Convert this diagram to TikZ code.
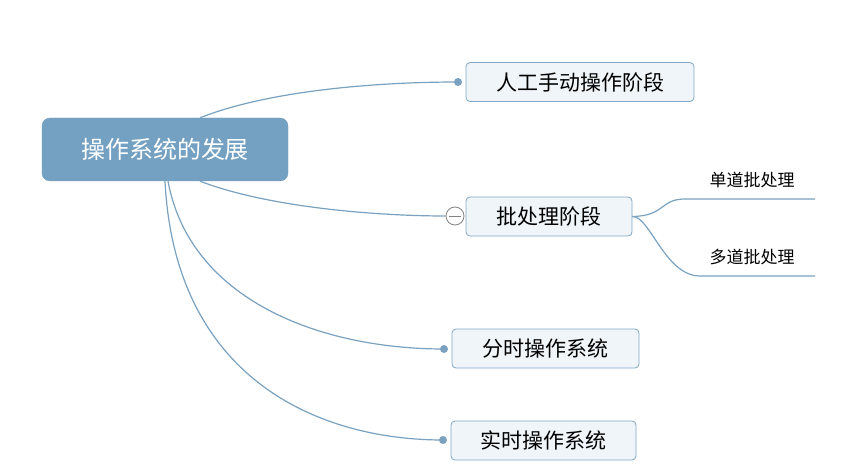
\documentclass[tikz,border=0pt]{standalone}
\usepackage{fontspec}
\setmainfont{Noto Sans CJK SC}
\usetikzlibrary{positioning,calc}
\definecolor{BranchBlue}{RGB}{122,162,192}
\definecolor{RootBlue}{RGB}{116,161,194}
\definecolor{TopicFill}{RGB}{239,245,248}
\definecolor{TopicLine}{RGB}{128,168,198}
\definecolor{FoldGray}{RGB}{130,130,130}
\tikzset{
  root/.style={draw=RootBlue,fill=RootBlue,rounded corners=8pt,text=white,
    font=\fontsize{24}{28}\selectfont,minimum width=246pt,minimum height=63pt},
  topic/.style={draw=TopicLine,fill=TopicFill,rounded corners=4pt,thick,
    font=\fontsize{21}{25}\selectfont,minimum height=39pt,inner xsep=0pt},
  subtopic/.style={font=\fontsize{17}{20}\selectfont,inner sep=0pt},
  branch/.style={BranchBlue,line width=1.2pt},
  knob/.style={circle,fill=BranchBlue,inner sep=0pt,minimum size=8pt}
}

\begin{document}
\begin{tikzpicture}[x=1pt,y=-1pt]
\useasboundingbox[fill=white] (0,0) rectangle (865,476);

% central topic
\node[root] (dev) at (165,149.5) {操作系统的发展};

% main topics
\node[topic,minimum width=228pt] (manual) at (580,82) {人工手动操作阶段};
\node[topic,minimum width=166pt] (batch) at (549,216.5) {批处理阶段};
\node[topic,minimum width=187pt] (share) at (545.5,348.5) {分时操作系统};
\node[topic,minimum width=185pt] (real) at (543.5,440.5) {实时操作系统};

% knobs in front of the topics
\node[knob] (k1) at (458,82) {};
\node[knob] (k3) at (444,349) {};
\node[knob] (k4) at (443,440) {};
\node[circle,draw=FoldGray,fill=white,thick,inner sep=0pt,
      minimum size=18pt] (fold) at (455,216) {};
\draw[FoldGray,thick] ($(fold.center)+(-6,0)$) -- ($(fold.center)+(6,0)$);

% branches
\draw[branch] ([xshift=35pt]dev.north)
  .. controls (270,90) and (380,82) .. (k1.center);
\draw[branch] ([xshift=35pt]dev.south)
  .. controls (270,208) and (380,216) .. (fold.west);
\draw[branch] ([xshift=3pt]dev.south)
  .. controls (190,300) and (320,349) .. (k3.center);
\draw[branch] ([xshift=0pt]dev.south)
  .. controls (175,380) and (320,440) .. (k4.center);

% sub topics of batch
\coordinate (s1end) at (815,199);
\coordinate (s2end) at (815,276);
\node[subtopic,above=11pt of s1end,xshift=-63pt] (single) {单道批处理};
\node[subtopic,above=11pt of s2end,xshift=-63pt] (multi) {多道批处理};
\draw[branch] (batch.east)
  .. controls (665,216) and (660,199) .. (685,199) -- (s1end);
\draw[branch] (batch.east)
  .. controls (650,216) and (665,276) .. (700,276) -- (s2end);

\end{tikzpicture}
\end{document}
